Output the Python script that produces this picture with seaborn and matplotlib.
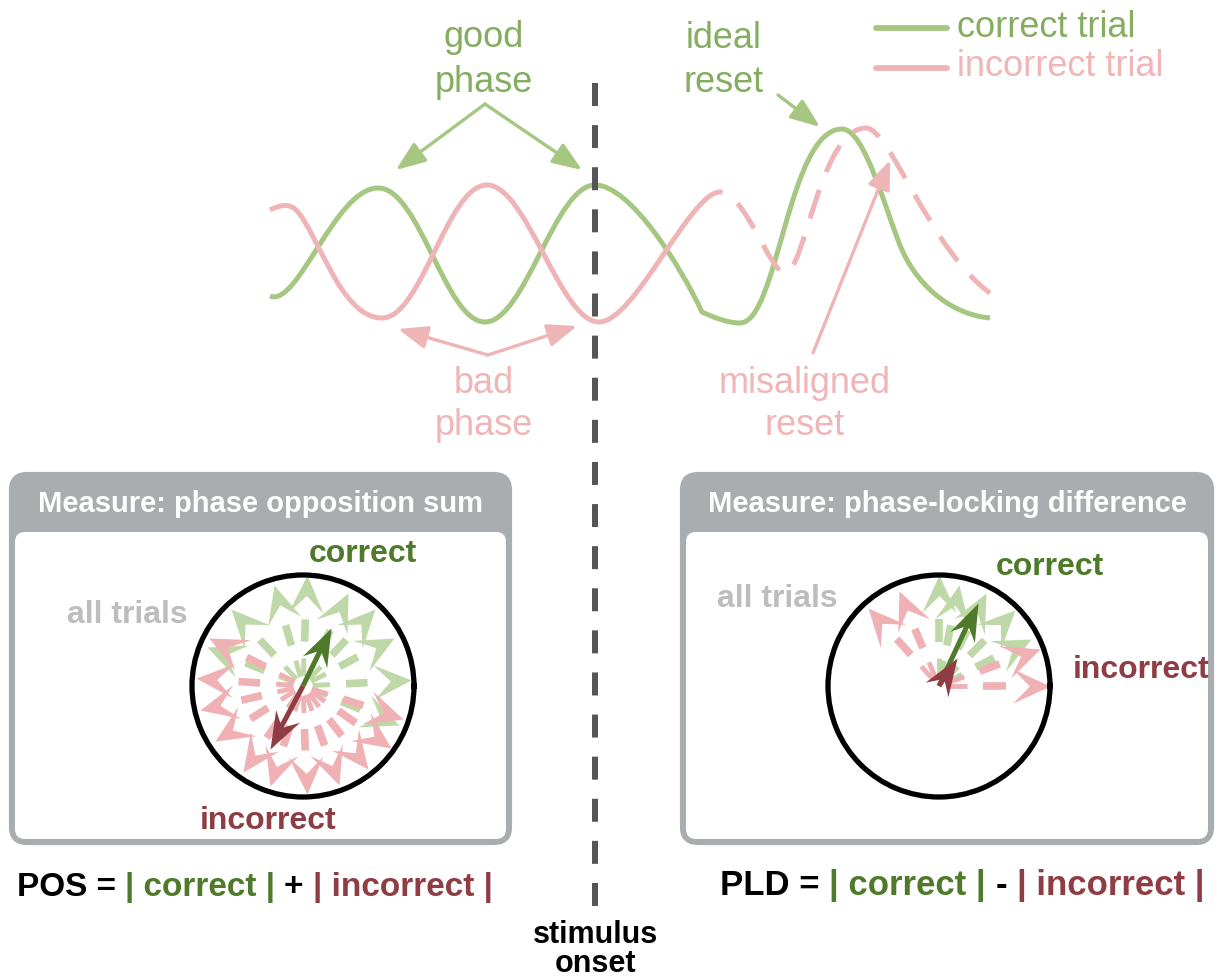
import numpy as np
import matplotlib
matplotlib.use("Agg")
import matplotlib.pyplot as plt
import seaborn as sns
from matplotlib.path import Path
from matplotlib.patches import PathPatch, FancyBboxPatch
from matplotlib.markers import MarkerStyle
from matplotlib.transforms import Affine2D

sns.set_theme(style="white")
plt.rcParams['font.family'] = ['Liberation Sans', 'DejaVu Sans']

W, H = 1219, 980

GREEN = "#a5c782"
PINK = "#efb5b6"
GREEN_TXT = "#84ad60"
PINK_TXT = "#f0b5b7"
LIGHT_GREEN = "#bfd8a8"
LIGHT_PINK = "#efb1b4"
DARK_GREEN = "#4e7a2a"
DARK_RED = "#8f3d44"
PANEL_GRAY = "#a9adb0"
ALL_GRAY = "#bdbdbd"

# wave traces (pixel coords), cubic bezier: start point then (ctrl, ctrl, end) per segment
correct_wave = [(270, 296),
                (298, 308), (335, 188), (378, 188),
                (420, 188), (445, 322), (485, 322),
                (525, 322), (555, 185), (595, 185),
                (630, 185), (680, 265), (702, 312),
                (715, 318), (728, 323), (740, 323),
                (778, 323), (788, 129), (842, 129),
                (865, 129), (885, 210), (902, 250),
                (920, 290), (955, 315), (990, 318)]
incorrect_wave = [(270, 210),
                  (282, 204), (290, 204), (296, 210),
                  (318, 232), (340, 318), (382, 318),
                  (422, 318), (447, 185), (487, 185),
                  (527, 185), (560, 322), (599, 322),
                  (635, 322), (690, 192), (720, 192)]
incorrect_reset = [(720, 192),
                   (745, 192), (770, 273), (785, 273),
                   (805, 273), (820, 128), (866, 128),
                   (890, 128), (930, 250), (990, 293)]

# single-trial phase vectors (degrees, length as fraction of radius)
pos_correct_theta = [-22, 3, 28, 47, 64, 88, 106, 133, 158]
pos_correct_len = [0.93, 0.97, 0.93, 0.95, 0.93, 1.0, 0.95, 0.95, 0.93]
pos_incorrect_theta = [153, 176, 193, 212, 235, 252, 272, 290, 308, 325, 342]
pos_incorrect_len = [0.95, 0.97, 0.95, 0.93, 0.95, 0.95, 0.97, 0.95, 0.95, 0.97, 0.95]
pld_correct_theta = [27, 45, 63, 79, 90]
pld_correct_len = [0.93, 0.97, 0.94, 0.93, 1.0]
pld_incorrect_theta = [0, 20, 113, 132]
pld_incorrect_len = [1.0, 0.97, 0.93, 0.95]

# mean vectors
pos_mean = {"correct": (64, 0.58), "incorrect": (242, 0.64)}
pld_mean = {"correct": (65, 0.83), "incorrect": (57, 0.30)}

fig = plt.figure(figsize=(W / 100, H / 100), dpi=100)
ax = fig.add_axes([0, 0, 1, 1])


def bezier(pts):
    return Path(pts, [Path.MOVETO] + [Path.CURVE4] * (len(pts) - 1))


# stimulus onset line and legend swatches
sns.lineplot(x=[595, 595], y=[83, 912], ax=ax, color="#555555", lw=4.3,
             linestyle=(0, (3.85, 3.2)), sort=False, estimator=None)
sns.lineplot(x=[876, 947], y=[28, 28], ax=ax, color=GREEN, lw=4.2, sort=False, estimator=None)
sns.lineplot(x=[876, 947], y=[68, 68], ax=ax, color=PINK, lw=4.2, sort=False, estimator=None)
ax.set_xlim(0, W)
ax.set_ylim(H, 0)
ax.axis("off")


# panels
def panel(x0, x1, title):
    y0, y1 = 474, 843
    ax.add_patch(FancyBboxPatch((x0, y0), x1 - x0, y1 - y0,
                                boxstyle="round,pad=0,rounding_size=16",
                                fc=PANEL_GRAY, ec=PANEL_GRAY, lw=3))
    ax.add_patch(FancyBboxPatch((x0 + 4, 532), x1 - x0 - 8, y1 - 4 - 532,
                                boxstyle="round,pad=0,rounding_size=10",
                                fc="white", ec="none"))
    ax.text((x0 + x1) / 2, 504, title, color="white", weight="bold",
            size=21, ha="center", va="center")


panel(11, 510, "Measure: phase opposition sum")
panel(682, 1212, "Measure: phase-locking difference")

# waves
ax.add_patch(PathPatch(bezier(correct_wave), fill=False, ec=GREEN, lw=3.6, capstyle="butt"))
ax.add_patch(PathPatch(bezier(incorrect_wave), fill=False, ec=PINK, lw=3.6, capstyle="butt"))
ax.add_patch(PathPatch(bezier(incorrect_reset), fill=False, ec=PINK, lw=3.6,
                       linestyle=(5.5, (6.0, 3.8)), capstyle="butt"))

ax.text(957, 37, "correct trial", color=GREEN_TXT, size=26, va="baseline")
ax.text(957, 76, "incorrect trial", color=PINK_TXT, size=26, va="baseline")

# top annotations
for s, yb in [("good", 47), ("phase", 92)]:
    ax.text(484, yb, s, color=GREEN_TXT, size=26, ha="center", va="baseline")
for s, yb in [("ideal", 48), ("reset", 92)]:
    ax.text(724, yb, s, color=GREEN_TXT, size=26, ha="center", va="baseline")
for s, yb in [("bad", 393), ("phase", 435)]:
    ax.text(484, yb, s, color=PINK_TXT, size=26, ha="center", va="baseline")
for s, yb in [("misaligned", 393), ("reset", 435)]:
    ax.text(805, yb, s, color=PINK_TXT, size=26, ha="center", va="baseline")


def pointer(start, tip, color):
    ax.annotate("", xy=tip, xytext=start,
                arrowprops=dict(arrowstyle="-|>,head_length=0.9,head_width=0.35",
                                color=color, lw=2.4, mutation_scale=20,
                                shrinkA=0, shrinkB=0))


pointer((485, 104), (396, 170), GREEN)
pointer((485, 104), (582, 170), GREEN)
pointer((778, 95), (820, 127), GREEN)
pointer((488, 355), (398, 329), PINK)
pointer((488, 355), (577, 326), PINK)
pointer((813, 353), (890, 160), PINK)

# panel labels
ax.text(363, 562, "correct", color=DARK_GREEN, weight="bold", size=23, ha="center", va="baseline")
ax.text(127, 623, "all trials", color=ALL_GRAY, weight="bold", size=23, ha="center", va="baseline")
ax.text(268, 829, "incorrect", color=DARK_RED, weight="bold", size=23, ha="center", va="baseline")
ax.text(1050, 575, "correct", color=DARK_GREEN, weight="bold", size=23, ha="center", va="baseline")
ax.text(777, 607, "all trials", color=ALL_GRAY, weight="bold", size=23, ha="center", va="baseline")
ax.text(1141, 678, "incorrect", color=DARK_RED, weight="bold", size=23, ha="center", va="baseline")


# formulas
def formula(x, y, parts, size, gap):
    prev = ax.text(x, y, parts[0][0], color=parts[0][1], weight="bold", size=size,
                   va="baseline")
    for s, c in parts[1:]:
        prev = ax.annotate(s, xy=(1, 0), xycoords=prev, xytext=(gap, 0),
                           textcoords="offset points", color=c, weight="bold",
                           size=size, va="bottom", ha="left")


formula(17, 896, [("POS =", "black"), ("| correct |", DARK_GREEN), ("+", "black"),
                  ("| incorrect |", DARK_RED)], 24, 6.5)
formula(720, 895, [("PLD =", "black"), ("| correct |", DARK_GREEN), ("-", "black"),
                   ("| incorrect |", DARK_RED)], 25, 7)

ax.text(596, 943, "stimulus", color="black", weight="bold", size=22, ha="center", va="baseline")
ax.text(596, 972, "onset", color="black", weight="bold", size=22, ha="center", va="baseline")

# circular phase plots
TRIAL_HEAD = Path([(0, 0), (-1, 0.46), (-0.55, 0), (-1, -0.46), (0, 0)],
                  [Path.MOVETO, Path.LINETO, Path.LINETO, Path.LINETO, Path.CLOSEPOLY])
MEAN_HEAD = Path([(0, 0), (-1, 0.36), (-0.65, 0), (-1, -0.36), (0, 0)],
                 [Path.MOVETO, Path.LINETO, Path.LINETO, Path.LINETO, Path.CLOSEPOLY])


def circle_axes(cx, cy, r):
    pax = fig.add_axes([(cx - r) / W, 1 - (cy + r) / H, 2 * r / W, 2 * r / H],
                       projection="polar")
    pax.set_ylim(0, 1)
    pax.set_xticks([])
    pax.set_yticks([])
    pax.grid(False)
    pax.set_facecolor("white")
    pax.spines["polar"].set_linewidth(3.8)
    pax.spines["polar"].set_color("black")
    return pax


def trials(pax, thetas, lens, color):
    for th_deg, L in zip(thetas, lens):
        th = np.deg2rad(th_deg)
        pax.plot([th, th], [0.09 * L, 0.25 * L], color=color, lw=3.5, solid_capstyle="butt")
        pax.plot([th, th], [0.40 * L, 0.60 * L], color=color, lw=5.5, solid_capstyle="butt")
        pax.plot([th], [L], marker=MarkerStyle(TRIAL_HEAD, transform=Affine2D().rotate_deg(th_deg)),
                 ms=54, color=color, mew=0, clip_on=False, ls="none")


def mean_vector(pax, th_deg, L, color):
    th = np.deg2rad(th_deg)
    pax.plot([th, th], [0, L - 0.18], color=color, lw=3.6, solid_capstyle="butt")
    pax.plot([th], [L], marker=MarkerStyle(MEAN_HEAD, transform=Affine2D().rotate_deg(th_deg)),
             ms=54, color=color, mew=0, clip_on=False, ls="none")


pax = circle_axes(303, 686, 111)
trials(pax, pos_correct_theta, pos_correct_len, LIGHT_GREEN)
trials(pax, pos_incorrect_theta, pos_incorrect_len, LIGHT_PINK)
mean_vector(pax, *pos_mean["correct"], DARK_GREEN)
mean_vector(pax, *pos_mean["incorrect"], DARK_RED)

pax = circle_axes(939, 686, 111)
trials(pax, pld_correct_theta, pld_correct_len, LIGHT_GREEN)
trials(pax, pld_incorrect_theta, pld_incorrect_len, LIGHT_PINK)
mean_vector(pax, *pld_mean["correct"], DARK_GREEN)
mean_vector(pax, *pld_mean["incorrect"], DARK_RED)

fig.savefig("out.png", dpi=100)
